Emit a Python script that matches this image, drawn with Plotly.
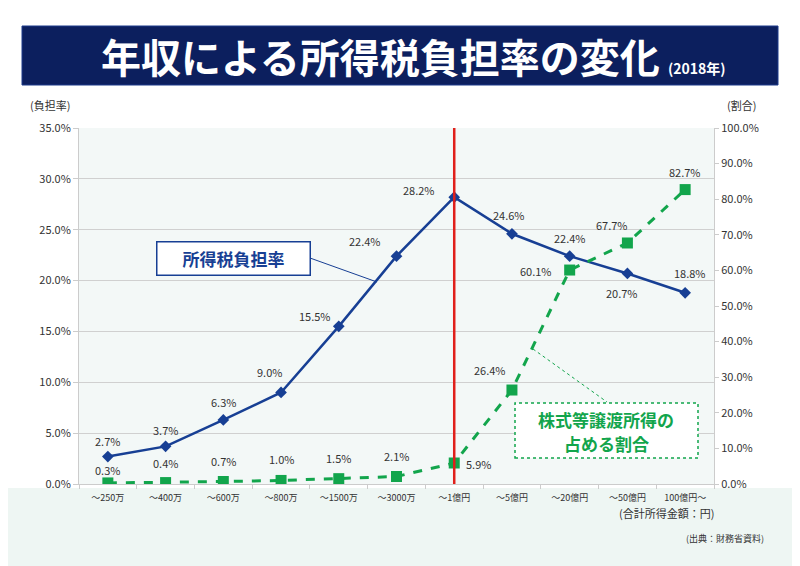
import plotly.graph_objects as go

# 年収区分ごとの所得税負担率と株式等譲渡所得の割合 (2018年)
categories = ["～250万", "～400万", "～600万", "～800万", "～1500万", "～3000万",
              "～1億円", "～5億円", "～20億円", "～50億円", "100億円～"]
futan_ritsu = [2.7, 3.7, 6.3, 9.0, 15.5, 22.4, 28.2, 24.6, 22.4, 20.7, 18.8]
kabu_wariai = [0.3, 0.4, 0.7, 1.0, 1.5, 2.1, 5.9, 26.4, 60.1, 67.7, 82.7]

left_ticks = [0, 5, 10, 15, 20, 25, 30, 35]
right_ticks = [0, 10, 20, 30, 40, 50, 60, 70, 80, 90, 100]

FONT = "Noto Sans CJK JP"
NAVY = "#0c1f5e"
BLUE = "#173f94"
GREEN = "#12a54c"
TXT = "#333333"


def px(x):
    # ページ上のピクセル位置 -> paper座標 (プロット領域 x:79-714)
    return (x - 79) / 635


def py(y):
    # ページ上のピクセル位置 -> paper座標 (プロット領域 y:128-484)
    return (484 - y) / 356


fig = go.Figure()

fig.add_trace(go.Scatter(x=categories, y=futan_ritsu, mode="lines+markers",
                         line=dict(color=BLUE, width=2.5),
                         marker=dict(symbol="diamond", size=9, color=BLUE),
                         showlegend=False))
fig.add_trace(go.Scatter(x=categories, y=kabu_wariai, mode="lines+markers", yaxis="y2",
                         line=dict(color=GREEN, width=3, dash="dash"),
                         marker=dict(symbol="square", size=11, color=GREEN),
                         showlegend=False))

# データラベルの位置 (xshift, yshift)
blue_off = [(0, 16), (0, 16), (0, 18), (-12, 20), (-24, 10), (-32, 15),
            (-35, 7), (-3, 19), (0, 18), (-5, -20), (5, 20)]
green_off = [(0, 13), (0, 20), (0, 21), (0, 21), (0, 21), (0, 21),
             (24, -1), (-22, 20), (-34, -1), (-15, 18), (0, 18)]

for i, c in enumerate(categories):
    fig.add_annotation(x=c, y=futan_ritsu[i], text=f"{futan_ritsu[i]:.1f}%", showarrow=False,
                       xshift=blue_off[i][0], yshift=blue_off[i][1],
                       font=dict(family=FONT, size=11, color=TXT))
    fig.add_annotation(x=c, y=kabu_wariai[i], yref="y2", text=f"{kabu_wariai[i]:.1f}%",
                       showarrow=False, xshift=green_off[i][0], yshift=green_off[i][1],
                       font=dict(family=FONT, size=11, color=TXT))

# 赤い縦線 (～1億円)
fig.add_shape(type="line", xref="x", yref="paper", x0="～1億円", x1="～1億円", y0=0, y1=1,
              line=dict(color="#e0201b", width=2.5))

# 下部の背景
fig.add_shape(type="rect", xref="paper", yref="paper", x0=px(0), x1=px(800), y0=py(566), y1=py(488),
              fillcolor="#eef6f3", line_width=0, layer="below")

# タイトル帯
fig.add_shape(type="rect", xref="paper", yref="paper", x0=px(22), x1=px(778), y0=py(85), y1=py(26),
              fillcolor=NAVY, line=dict(color="#1d3a8a", width=1))
fig.add_annotation(xref="paper", yref="paper", x=px(380), y=py(56), xanchor="center", yanchor="middle",
                   text="<b>年収による所得税負担率の変化</b>", showarrow=False,
                   font=dict(family=FONT, size=40, color="white"))
fig.add_annotation(xref="paper", yref="paper", x=px(666), y=py(68), xanchor="left", yanchor="middle",
                   text="<b>(2018年)</b>", showarrow=False,
                   font=dict(family=FONT, size=14, color="white"))

# 軸ラベル
common = dict(xref="paper", yref="paper", showarrow=False, yanchor="middle")
fig.add_annotation(x=px(50), y=py(105), text="(負担率)", xanchor="center",
                   font=dict(family=FONT, size=11, color=TXT), **common)
fig.add_annotation(x=px(741), y=py(105), text="(割合)", xanchor="center",
                   font=dict(family=FONT, size=11, color=TXT), **common)
fig.add_annotation(x=px(716), y=py(513), text="(合計所得金額：円)", xanchor="right",
                   font=dict(family=FONT, size=11, color=TXT), **common)
fig.add_annotation(x=px(766), y=py(538), text="(出典：財務省資料)", xanchor="right",
                   font=dict(family=FONT, size=9, color=TXT), **common)

# 吹き出し：所得税負担率
fig.add_shape(type="line", xref="paper", yref="paper", x0=px(310), y0=py(258),
              x1=px(377), y1=py(282), line=dict(color=BLUE, width=1))
fig.add_annotation(x=px(233), y=py(258), xanchor="center", text="<b>所得税負担率</b>",
                   width=150, height=30, bgcolor="white", bordercolor=BLUE, borderwidth=1.5,
                   font=dict(family=FONT, size=17, color=BLUE), **common)

# 吹き出し：株式等譲渡所得の占める割合
fig.add_shape(type="line", xref="paper", yref="paper", x0=px(533), y0=py(349),
              x1=px(607), y1=py(402), line=dict(color=GREEN, width=1, dash="dot"))
fig.add_shape(type="rect", xref="paper", yref="paper", x0=px(515), x1=px(698),
              y0=py(458), y1=py(403), fillcolor="white",
              line=dict(color=GREEN, width=1.5, dash="dot"))
fig.add_annotation(x=px(606), y=py(419), xanchor="center", text="<b>株式等譲渡所得の</b>",
                   font=dict(family=FONT, size=17, color=GREEN), **common)
fig.add_annotation(x=px(606), y=py(443), xanchor="center", text="<b>占める割合</b>",
                   font=dict(family=FONT, size=17, color=GREEN), **common)

# ページ余白(8px)を考慮して図のサイズを調整
fig.update_layout(
    width=792, height=558,
    margin=dict(l=71, r=86, t=120, b=82),
    paper_bgcolor="white", plot_bgcolor="#f3f8f7",
    font=dict(family=FONT, color=TXT),
    xaxis=dict(type="category", range=[-0.5, 10.5], showgrid=False,
               showline=True, linecolor="#cccccc", ticks="outside", ticklen=4, tickcolor="#cccccc",
               tickfont=dict(size=9, color=TXT), tickson="boundaries", ticklabelstandoff=5),
    yaxis=dict(range=[0, 35], tickvals=left_ticks, ticktext=[f"{v:.1f}%" for v in left_ticks],
               showgrid=True, gridcolor="#d0d0d0", showline=True, linecolor="#cccccc",
               ticks="outside", ticklen=5, tickcolor="#cccccc", zeroline=False,
               tickfont=dict(size=11, color=TXT)),
    yaxis2=dict(range=[0, 100], overlaying="y", side="right", tickvals=right_ticks,
                ticktext=[f"{v:.1f}%" for v in right_ticks], showgrid=False,
                showline=True, linecolor="#cccccc", ticks="outside", ticklen=4, tickcolor="#cccccc",
                zeroline=False, tickfont=dict(size=11, color=TXT)),
)

fig.write_html("out.html")
